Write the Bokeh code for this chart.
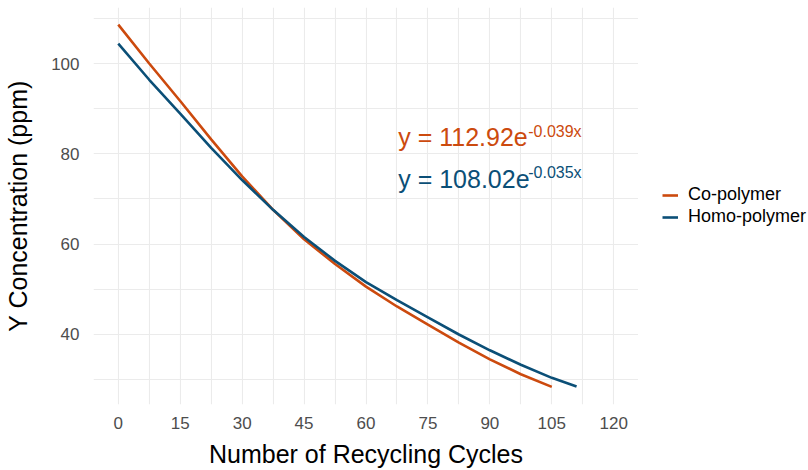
from bokeh.plotting import figure
from bokeh.layouts import row
from bokeh.models import FixedTicker, Legend, LegendItem, Range1d
from bokeh.core.properties import value
from bokeh.embed import file_html
from bokeh.resources import INLINE

# ---- data ----
co_x = [0, 7.5, 15, 22.5, 30, 37.5, 45, 52.5, 60, 67.5, 75, 82.5, 90, 97.5, 105]
co_y = [108.6, 100.0, 91.7, 83.2, 75.0, 67.6, 61.1, 55.6, 50.6, 46.2, 42.2, 38.2, 34.5, 31.2, 28.4]
homo_x = [0, 7.5, 15, 22.5, 30, 37.5, 45, 52.5, 60, 67.5, 75, 82.5, 90, 97.5, 105, 111]
homo_y = [104.4, 96.4, 88.9, 81.3, 74.2, 67.6, 61.6, 56.3, 51.6, 47.6, 43.8, 40.0, 36.5, 33.3, 30.4, 28.5]
series_names = ["Co-polymer", "Homo-polymer"]
eq_main = ["y = 112.92e", "y = 108.02e"]
eq_sup = ["-0.039x", "-0.035x"]
eq_x = [67.8, 67.8]
eq_y = [83.7, 74.5]
x_ticks = [0, 15, 30, 45, 60, 75, 90, 105, 120]
x_minor = [7.5, 22.5, 37.5, 52.5, 67.5, 82.5, 97.5, 112.5]
y_ticks = [40, 60, 80, 100]
y_minor = [30, 50, 70, 90, 110]

ORANGE = "#CC4A0E"
BLUE = "#0B4F77"
FONT = "Liberation Sans"

p = figure(width=638, height=470,
           x_range=Range1d(-6, 126), y_range=Range1d(24.5, 112.4),
           output_backend="svg", toolbar_location=None,
           min_border_left=93, min_border_right=0,
           min_border_top=7, min_border_bottom=65)
p.outline_line_color = None
p.background_fill_color = "white"

p.xaxis.ticker = FixedTicker(ticks=x_ticks, minor_ticks=x_minor)
p.yaxis.ticker = FixedTicker(ticks=y_ticks, minor_ticks=y_minor)

for g in (p.xgrid, p.ygrid):
    g.grid_line_color = "#EBEBEB"
    g.grid_line_width = 1.1
    g.minor_grid_line_color = "#EBEBEB"
    g.minor_grid_line_width = 1.1

for ax in (p.xaxis, p.yaxis):
    ax.axis_line_color = None
    ax.major_tick_line_color = None
    ax.minor_tick_line_color = None
    ax.major_label_text_font = FONT
    ax.major_label_text_font_size = "17px"
    ax.major_label_text_color = "#4D4D4D"
    ax.axis_label_text_font = FONT
    ax.axis_label_text_font_size = "25px"
    ax.axis_label_text_font_style = "normal"
    ax.axis_label_text_color = "black"

p.xaxis.axis_label = "Number of Recycling Cycles"
p.yaxis.axis_label = "Y Concentration (ppm)"
p.xaxis.major_label_standoff = 6
p.xaxis.axis_label_standoff = 8
p.yaxis.major_tick_out = 0
p.yaxis.major_label_standoff = 10
p.yaxis.axis_label_standoff = 16

p.line(co_x, co_y, line_color=ORANGE, line_width=2.6)
p.line(homo_x, homo_y, line_color=BLUE, line_width=2.6)

colors = [ORANGE, BLUE]
for i in range(2):
    p.text(x=[eq_x[i]], y=[eq_y[i]], text=[eq_main[i]], text_color=colors[i],
           text_font=value(FONT), text_font_size="25px",
           text_align="left", text_baseline="middle")
    p.text(x=[eq_x[i]], y=[eq_y[i]], text=[eq_sup[i]], text_color=colors[i],
           text_font=value(FONT), text_font_size="16px",
           text_align="left", text_baseline="middle",
           x_offset=130, y_offset=-6)

# legend panel to the right of the plot area (series drawn off-view, only keys show)
lg = figure(width=170, height=470, x_range=Range1d(-1000, -999), y_range=Range1d(-1000, -999),
            output_backend="svg", toolbar_location=None,
            x_axis_type=None, y_axis_type=None,
            min_border_left=0, min_border_right=0,
            min_border_top=0, min_border_bottom=0)
lg.outline_line_color = None
lg.xgrid.visible = False
lg.ygrid.visible = False
k_co = lg.line(co_x, co_y, line_color=ORANGE, line_width=2.6)
k_homo = lg.line(homo_x, homo_y, line_color=BLUE, line_width=2.6)
legend = Legend(items=[LegendItem(label=series_names[0], renderers=[k_co]),
                       LegendItem(label=series_names[1], renderers=[k_homo])],
                location=(24, 177), margin=0, padding=0,
                glyph_width=16, glyph_height=20, label_height=20,
                spacing=1, label_standoff=10,
                label_text_font=FONT, label_text_font_size="18px",
                label_text_color="black",
                border_line_color=None, background_fill_alpha=0)
lg.add_layout(legend, "center")

layout = row(p, lg, spacing=0)
open("out.html", "w").write(file_html(layout, INLINE))
